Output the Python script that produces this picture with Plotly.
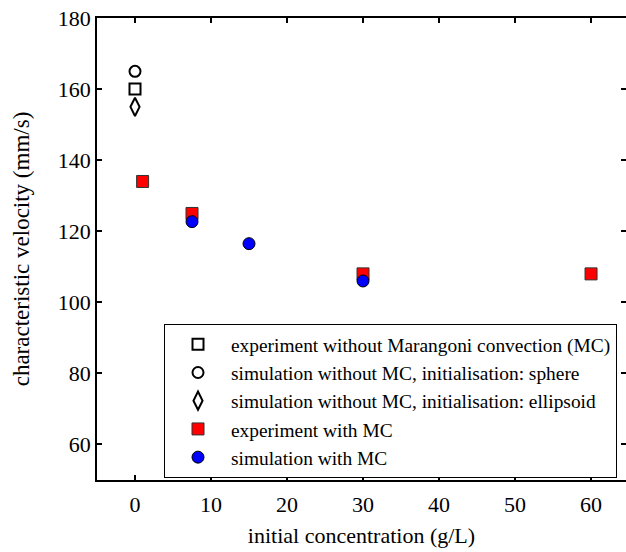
import plotly.graph_objects as go

# Characteristic velocity vs. initial concentration
conc_exp_noMC = [0]
vel_exp_noMC = [160]

conc_sim_sphere = [0]
vel_sim_sphere = [165]

conc_sim_ellipsoid = [0]
vel_sim_ellipsoid = [155]

conc_exp_MC = [1, 7.5, 30, 60]
vel_exp_MC = [134, 125, 108, 108]

conc_sim_MC = [7.5, 15, 30]
vel_sim_MC = [122.7, 116.5, 106]

x_ticks = [0, 10, 20, 30, 40, 50, 60]
y_ticks = [60, 80, 100, 120, 140, 160, 180]

FONT = "Liberation Serif, Times New Roman, serif"

fig = go.Figure()

series = [
    ("experiment without Marangoni convection (MC)", conc_exp_noMC, vel_exp_noMC,
     dict(symbol="square-open", size=11, color="black", line=dict(width=2, color="black"))),
    ("simulation without MC, initialisation: sphere", conc_sim_sphere, vel_sim_sphere,
     dict(symbol="circle-open", size=11, color="black", line=dict(width=2, color="black"))),
    ("simulation without MC, initialisation: ellipsoid", conc_sim_ellipsoid, vel_sim_ellipsoid,
     dict(symbol="diamond-tall-open", size=13, color="black", line=dict(width=2, color="black"))),
    ("experiment with MC", conc_exp_MC, vel_exp_MC,
     dict(symbol="square", size=12, color="#ff0000", line=dict(width=1, color="#333333"))),
    ("simulation with MC", conc_sim_MC, vel_sim_MC,
     dict(symbol="circle", size=12, color="#0000ff", line=dict(width=1, color="black"))),
]

for name, xs, ys, mk in series:
    fig.add_trace(go.Scatter(x=xs, y=ys, mode="markers", name=name, marker=mk))

tick_style = dict(ticks="inside", ticklen=5, tickwidth=1.5, tickcolor="black",
                  showgrid=False, zeroline=False)

fig.update_layout(
    width=626, height=552,
    margin=dict(l=97, r=0, t=18, b=72),
    plot_bgcolor="white", paper_bgcolor="white",
    font=dict(family=FONT, color="black"),
    xaxis=dict(range=[-5, 64.6], tickvals=x_ticks,
               showline=True, linecolor="black", linewidth=1.5, mirror="ticks",
               tickfont=dict(family=FONT, size=22, color="black"),
               ticklabelstandoff=4,
               title=dict(text="initial concentration (g/L)",
                          font=dict(family=FONT, size=22), standoff=11),
               **tick_style),
    yaxis=dict(range=[50, 180], tickvals=y_ticks,
               showline=True, linecolor="black", linewidth=1.5, mirror=False,
               tickfont=dict(family=FONT, size=22, color="black"),
               title=dict(text="characteristic velocity (mm/s)",
                          font=dict(family=FONT, size=23), standoff=22),
               **tick_style),
    # right-hand tick marks only (the frame's right edge lies past the page)
    yaxis2=dict(overlaying="y", side="right", matches="y", range=[50, 180],
                tickvals=y_ticks, showticklabels=False, showline=False,
                **tick_style),
    legend=dict(x=0.983, y=0.004, xanchor="right", yanchor="bottom",
                bgcolor="white", bordercolor="black", borderwidth=1,
                font=dict(family=FONT, size=19.4, color="black"),
                itemwidth=56),
    showlegend=True,
)

# an empty trace anchors the right-hand axis so its ticks are drawn
fig.add_trace(go.Scatter(x=[None], y=[None], yaxis="y2", showlegend=False,
                         hoverinfo="skip"))

fig.write_html("out.html")
